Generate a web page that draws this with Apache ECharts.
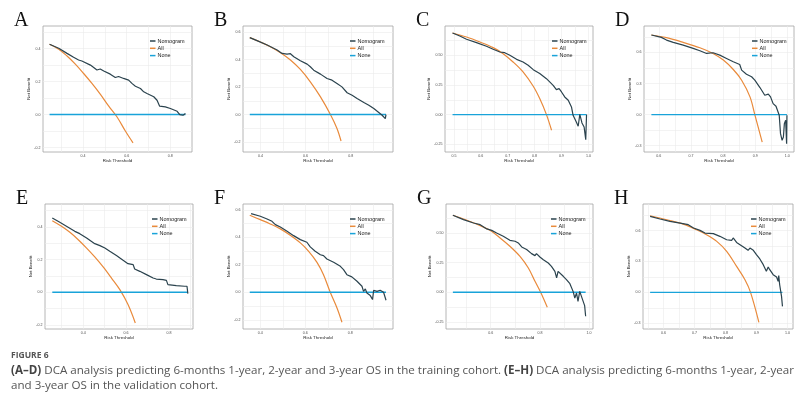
<!DOCTYPE html>
<html>
<head>
<meta charset="utf-8">
<script src="https://cdn.jsdelivr.net/npm/echarts@6/dist/echarts.min.js"></script>
<style>
  html, body { margin: 0; padding: 0; background: #fff; }
  #chart { width: 807px; height: 402px; }
</style>
</head>
<body>
<div id="chart"></div>
<script>
// Net benefit curves, [threshold, net benefit]
const nomoA = [[0.247,0.426],[0.289,0.402],[0.327,0.371],[0.357,0.347],[0.380,0.331],[0.395,0.325],[0.434,0.300],[0.464,0.270],[0.479,0.276],[0.495,0.264],[0.525,0.245],[0.548,0.225],[0.563,0.231],[0.586,0.219],[0.609,0.209],[0.624,0.189],[0.640,0.172],[0.663,0.158],[0.678,0.138],[0.693,0.128],[0.724,0.108],[0.739,0.087],[0.751,0.051],[0.777,0.047],[0.800,0.037],[0.831,0.020],[0.843,0.000],[0.858,-0.004],[0.869,0.006]];
const allA = [[0.247,0.426],[0.289,0.396],[0.327,0.355],[0.365,0.306],[0.403,0.249],[0.441,0.189],[0.479,0.124],[0.518,0.051],[0.556,-0.015],[0.594,-0.100],[0.629,-0.172]];
const noneA = [[0.247,0],[0.869,0]];

const nomoB = [[0.353,0.561],[0.385,0.539],[0.430,0.507],[0.474,0.471],[0.496,0.446],[0.518,0.441],[0.533,0.444],[0.548,0.422],[0.577,0.393],[0.607,0.368],[0.621,0.349],[0.636,0.324],[0.666,0.295],[0.695,0.263],[0.717,0.251],[0.739,0.227],[0.761,0.202],[0.784,0.159],[0.806,0.141],[0.828,0.117],[0.858,0.088],[0.865,0.093],[0.880,0.068],[0.902,0.044],[0.924,0.015],[0.939,-0.005],[0.953,-0.029],[0.956,0.000]];
const allB = [[0.353,0.561],[0.400,0.529],[0.444,0.495],[0.489,0.451],[0.533,0.398],[0.577,0.329],[0.621,0.239],[0.666,0.129],[0.710,0.000],[0.739,-0.102],[0.757,-0.193]];
const noneB = [[0.353,0],[0.956,0]];

const nomoC = [[0.495,0.688],[0.522,0.663],[0.547,0.635],[0.584,0.607],[0.621,0.576],[0.646,0.551],[0.671,0.528],[0.689,0.522],[0.708,0.500],[0.733,0.466],[0.757,0.444],[0.776,0.416],[0.795,0.379],[0.819,0.346],[0.844,0.303],[0.869,0.247],[0.881,0.211],[0.891,0.219],[0.900,0.191],[0.912,0.149],[0.925,0.121],[0.937,0.065],[0.943,-0.006],[0.955,-0.062],[0.962,-0.098],[0.968,0.003],[0.976,-0.070],[0.984,-0.104],[0.990,-0.211],[0.993,0.000]];
const allC = [[0.495,0.688],[0.547,0.654],[0.597,0.612],[0.646,0.565],[0.683,0.514],[0.720,0.444],[0.757,0.360],[0.795,0.239],[0.819,0.135],[0.844,0.000],[0.863,-0.132]];
const noneC = [[0.495,0],[0.993,0]];

const nomoD = [[0.577,0.768],[0.608,0.745],[0.624,0.719],[0.645,0.697],[0.676,0.671],[0.707,0.639],[0.728,0.616],[0.749,0.590],[0.769,0.597],[0.790,0.574],[0.811,0.542],[0.832,0.510],[0.852,0.484],[0.858,0.429],[0.873,0.390],[0.889,0.365],[0.899,0.332],[0.915,0.261],[0.930,0.187],[0.941,0.197],[0.948,0.171],[0.956,0.106],[0.965,0.081],[0.970,0.068],[0.975,-0.006],[0.979,-0.184],[0.984,-0.248],[0.988,-0.216],[0.991,-0.087],[0.995,-0.055],[0.998,-0.281],[0.999,-0.006]];
const allD = [[0.577,0.768],[0.624,0.742],[0.676,0.697],[0.728,0.645],[0.769,0.590],[0.801,0.526],[0.832,0.435],[0.858,0.332],[0.884,0.171],[0.899,0.000],[0.922,-0.265]];
const noneD = [[0.577,0],[0.999,0]];

const nomoE = [[0.256,0.454],[0.291,0.427],[0.322,0.403],[0.361,0.372],[0.384,0.358],[0.416,0.332],[0.454,0.297],[0.478,0.285],[0.501,0.270],[0.524,0.250],[0.555,0.224],[0.586,0.195],[0.609,0.175],[0.617,0.183],[0.633,0.169],[0.640,0.142],[0.664,0.128],[0.695,0.108],[0.726,0.087],[0.733,0.098],[0.741,0.081],[0.772,0.077],[0.788,0.073],[0.795,0.047],[0.834,0.041],[0.873,0.037],[0.884,0.037],[0.888,-0.008]];
const allE = [[0.256,0.437],[0.299,0.403],[0.338,0.366],[0.377,0.321],[0.416,0.270],[0.454,0.216],[0.493,0.155],[0.532,0.087],[0.571,0.016],[0.609,-0.075],[0.643,-0.187]];
const noneE = [[0.256,0],[0.888,0]];

const nomoF = [[0.359,0.572],[0.400,0.553],[0.430,0.533],[0.452,0.516],[0.467,0.492],[0.489,0.475],[0.519,0.444],[0.548,0.412],[0.578,0.383],[0.607,0.364],[0.622,0.330],[0.644,0.298],[0.667,0.273],[0.681,0.267],[0.696,0.242],[0.726,0.218],[0.756,0.189],[0.770,0.165],[0.785,0.128],[0.807,0.112],[0.830,0.080],[0.852,0.044],[0.859,0.007],[0.867,0.024],[0.874,-0.005],[0.881,0.007],[0.889,-0.024],[0.899,-0.053],[0.904,0.015],[0.919,0.007],[0.933,0.015],[0.948,0.000],[0.956,-0.005],[0.959,-0.058]];
const allF = [[0.353,0.560],[0.400,0.528],[0.444,0.497],[0.489,0.461],[0.533,0.415],[0.578,0.359],[0.615,0.298],[0.652,0.218],[0.681,0.128],[0.711,0.000],[0.741,-0.114],[0.763,-0.218]];
const noneF = [[0.353,0],[0.959,0]];

const nomoG = [[0.446,0.649],[0.489,0.612],[0.530,0.584],[0.557,0.570],[0.584,0.534],[0.604,0.522],[0.624,0.500],[0.651,0.472],[0.678,0.438],[0.699,0.430],[0.712,0.416],[0.726,0.382],[0.746,0.360],[0.766,0.326],[0.780,0.309],[0.786,0.326],[0.800,0.298],[0.814,0.275],[0.834,0.247],[0.847,0.219],[0.861,0.177],[0.868,0.121],[0.874,0.177],[0.881,0.169],[0.895,0.135],[0.908,0.107],[0.922,0.073],[0.935,0.008],[0.942,-0.048],[0.949,-0.006],[0.955,-0.076],[0.962,0.008],[0.969,-0.034],[0.976,-0.076],[0.982,-0.112],[0.986,-0.202]];
const allG = [[0.446,0.649],[0.503,0.607],[0.557,0.562],[0.597,0.522],[0.638,0.458],[0.678,0.388],[0.719,0.303],[0.753,0.205],[0.780,0.093],[0.803,0.000],[0.830,-0.126]];
const noneG = [[0.446,0],[0.986,0]];

const nomoH = [[0.557,0.738],[0.589,0.712],[0.621,0.689],[0.654,0.673],[0.680,0.657],[0.697,0.625],[0.718,0.602],[0.734,0.576],[0.739,0.592],[0.761,0.570],[0.782,0.544],[0.804,0.511],[0.820,0.505],[0.825,0.528],[0.836,0.485],[0.847,0.463],[0.863,0.430],[0.873,0.408],[0.879,0.430],[0.890,0.408],[0.900,0.366],[0.911,0.324],[0.922,0.269],[0.932,0.204],[0.938,0.246],[0.943,0.220],[0.954,0.172],[0.965,0.149],[0.970,0.107],[0.972,0.162],[0.975,0.074],[0.981,-0.039],[0.984,-0.136]];
const allH = [[0.557,0.744],[0.611,0.705],[0.664,0.663],[0.707,0.608],[0.739,0.560],[0.772,0.495],[0.804,0.398],[0.836,0.252],[0.863,0.123],[0.881,0.000],[0.908,-0.291]];
const noneH = [[0.557,0],[0.984,0]];

// Tick labels (major breaks) and minor grid breaks
const xTicksA = [0.4,0.6,0.8], xMinorA = [0.3,0.5,0.7];
const yTicksA = [-0.2,0,0.2,0.4], yMinorA = [-0.1,0.1,0.3,0.5];
const xTicksB = [0.4,0.6,0.8], xMinorB = [0.5,0.7,0.9];
const yTicksB = [-0.2,0,0.2,0.4,0.6], yMinorB = [-0.1,0.1,0.3,0.5];
const xTicksC = [0.5,0.6,0.7,0.8,0.9,1.0], xMinorC = [0.55,0.65,0.75,0.85,0.95];
const yTicksC = [-0.25,0,0.25,0.5], yMinorC = [-0.125,0.125,0.375,0.625];
const xTicksD = [0.6,0.7,0.8,0.9,1.0], xMinorD = [0.65,0.75,0.85,0.95];
const yTicksD = [-0.3,0,0.3,0.6], yMinorD = [-0.15,0.15,0.45,0.75];
const xTicksE = [0.4,0.6,0.8], xMinorE = [0.3,0.5,0.7,0.9];
const yTicksE = [-0.2,0,0.2,0.4], yMinorE = [-0.1,0.1,0.3,0.5];
const xTicksF = [0.4,0.6,0.8], xMinorF = [0.5,0.7,0.9];
const yTicksF = [-0.2,0,0.2,0.4,0.6], yMinorF = [-0.1,0.1,0.3,0.5];
const xTicksG = [0.6,0.8,1.0], xMinorG = [0.5,0.7,0.9];
const yTicksG = [-0.25,0,0.25,0.5], yMinorG = [-0.125,0.125,0.375,0.625];
const xTicksH = [0.6,0.7,0.8,0.9,1.0], xMinorH = [0.55,0.65,0.75,0.85,0.95];
const yTicksH = [-0.3,0,0.3,0.6], yMinorH = [-0.15,0.15,0.45,0.75];

const seriesNames = ['Nomogram', 'All', 'None'];
const colors = ['#2b434e', '#e98a3b', '#19a3d9'];

// panel table: data refs + axis limits + placement
const panels = [
  { key: 'A', lines: [nomoA, allA, noneA], xt: xTicksA, xm: xMinorA, yt: yTicksA, ym: yMinorA, xr: [0.217, 0.899], yr: [-0.227, 0.537], xd: 1, yd: 1, box: [43, 26, 149, 126], lg: [150, 38] },
  { key: 'B', lines: [nomoB, allB, noneB], xt: xTicksB, xm: xMinorB, yt: yTicksB, ym: yMinorB, xr: [0.323, 0.987], yr: [-0.273, 0.646], xd: 1, yd: 1, box: [243, 26, 150, 126], lg: [350, 38] },
  { key: 'C', lines: [nomoC, allC, noneC], xt: xTicksC, xm: xMinorC, yt: yTicksC, ym: yMinorC, xr: [0.467, 1.017], yr: [-0.315, 0.747], xd: 1, yd: 2, box: [445, 26, 148, 126], lg: [552, 38] },
  { key: 'D', lines: [nomoD, allD, noneD], xt: xTicksD, xm: xMinorD, yt: yTicksD, ym: yMinorD, xr: [0.554, 1.021], yr: [-0.361, 0.855], xd: 1, yd: 1, box: [644, 26, 150, 126], lg: [752, 38] },
  { key: 'E', lines: [nomoE, allE, noneE], xt: xTicksE, xm: xMinorE, yt: yTicksE, ym: yMinorE, xr: [0.222, 0.912], yr: [-0.224, 0.539], xd: 1, yd: 1, box: [45, 204, 148, 125], lg: [152, 216] },
  { key: 'F', lines: [nomoF, allF, noneF], xt: xTicksF, xm: xMinorF, yt: yTicksF, ym: yMinorF, xr: [0.323, 0.990], yr: [-0.267, 0.642], xd: 1, yd: 1, box: [243, 204, 150, 125], lg: [350, 216] },
  { key: 'G', lines: [nomoG, allG, noneG], xt: xTicksG, xm: xMinorG, yt: yTicksG, ym: yMinorG, xr: [0.418, 1.016], yr: [-0.309, 0.744], xd: 1, yd: 2, box: [446, 204, 147, 125], lg: [551, 216] },
  { key: 'H', lines: [nomoH, allH, noneH], xt: xTicksH, xm: xMinorH, yt: yTicksH, ym: yMinorH, xr: [0.534, 1.018], yr: [-0.356, 0.858], xd: 1, yd: 1, box: [643, 204, 150, 125], lg: [751, 216] }
];

const chart = echarts.init(document.getElementById('chart'), null, { renderer: 'canvas' });

const grids = [], xAxes = [], yAxes = [], series = [], legends = [], graphics = [];

panels.forEach(function(p, i) {
  grids.push({
    left: p.box[0], top: p.box[1], width: p.box[2], height: p.box[3],
    show: true, borderColor: '#a3a3a3', borderWidth: 0.8, backgroundColor: '#fff'
  });

  xAxes.push({
    type: 'value', gridIndex: i, min: p.xr[0], max: p.xr[1],
    name: 'Risk Threshold', nameLocation: 'middle', nameGap: 4.5,
    nameTextStyle: { fontSize: 4.4, color: '#1a1a1a', fontFamily: 'Liberation Sans' },
    axisLine: { show: false },
    axisTick: { show: false, customValues: p.xt.concat(p.xm) },
    axisLabel: {
      customValues: p.xt, fontSize: 3.6, color: '#4d4d4d', margin: 1.5,
      fontFamily: 'Liberation Sans',
      formatter: function(v) { return v.toFixed(p.xd); }
    },
    splitLine: { show: true, lineStyle: { color: '#ebebeb', width: 0.6 } }
  });

  yAxes.push({
    type: 'value', gridIndex: i, min: p.yr[0], max: p.yr[1],
    name: 'Net Benefit', nameLocation: 'middle', nameGap: 11,
    nameTextStyle: { fontSize: 4.4, color: '#1a1a1a', fontFamily: 'Liberation Sans' },
    axisLine: { show: false },
    axisTick: { show: false, customValues: p.yt.concat(p.ym) },
    axisLabel: {
      customValues: p.yt, fontSize: 3.6, color: '#4d4d4d', margin: 2.5,
      fontFamily: 'Liberation Sans',
      formatter: function(v) { return v.toFixed(p.yd); }
    },
    splitLine: { show: true, lineStyle: { color: '#ebebeb', width: 0.6 } }
  });

  p.lines.forEach(function(d, k) {
    series.push({
      name: seriesNames[k], type: 'line', xAxisIndex: i, yAxisIndex: i,
      data: d, showSymbol: false, symbol: 'none', silent: true,
      smooth: k === 1 ? 0.35 : false,
      lineStyle: { color: colors[k], width: k === 2 ? 1.4 : 1.2 },
      itemStyle: { color: colors[k] },
      z: k === 0 ? 4 : 3
    });
  });

  legends.push({
    data: seriesNames, orient: 'vertical', left: p.lg[0], top: p.lg[1],
    icon: 'rect', itemWidth: 5.5, itemHeight: 1.5, itemGap: 1.3, padding: 0,
    selectedMode: false,
    textStyle: { fontSize: 5.5, color: '#1a1a1a', fontFamily: 'Liberation Sans', padding: [0, 0, 0, -3] }
  });

  graphics.push({
    type: 'text', left: p.box[0] - 29, top: p.box[1] - 15,
    style: { text: p.key, font: '20px "Liberation Serif"', fill: '#111' }
  });
});

// Figure caption
graphics.push({
  type: 'text', left: 11, top: 351,
  style: { text: 'FIGURE 6', font: 'bold 8.5px "Open Sans"', fill: '#555' }
});
graphics.push({
  type: 'text', left: 11, top: 365,
  style: {
    text: '{b|(A\u2013D)} DCA analysis predicting 6-months 1-year, 2-year and 3-year OS in the training cohort. {b|(E\u2013H)} DCA analysis predicting 6-months 1-year, 2-year',
    font: '11.6px "Open Sans"', fill: '#555',
    rich: { b: { font: 'bold 11.6px "Open Sans"', fill: '#444' } }
  }
});
graphics.push({
  type: 'text', left: 11, top: 380,
  style: { text: 'and 3-year OS in the validation cohort.', font: '11.6px "Open Sans"', fill: '#555' }
});

chart.setOption({
  animation: false,
  backgroundColor: '#fff',
  grid: grids,
  xAxis: xAxes,
  yAxis: yAxes,
  legend: legends,
  series: series,
  graphic: graphics
});
</script>
</body>
</html>
